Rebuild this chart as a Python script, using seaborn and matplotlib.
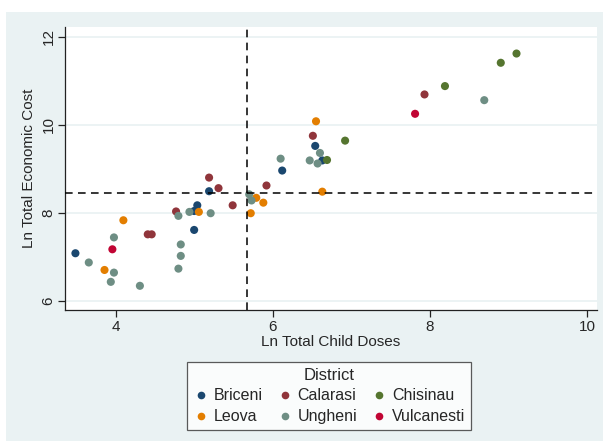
import numpy as np
import pandas as pd
import matplotlib
matplotlib.use("Agg")
import matplotlib.pyplot as plt
from matplotlib.patches import Rectangle
from matplotlib.lines import Line2D
import seaborn as sns

# Stata s2color palette
colors = {"Briceni": "#1a476f",
          "Calarasi": "#90353b",
          "Chisinau": "#55752f",
          "Leova": "#e37e00",
          "Ungheni": "#6e8e84",
          "Vulcanesti": "#c10534"}
districts = list(colors.keys())

# data (ln doses, ln cost)
briceni_x = [3.49, 5.00, 5.00, 5.04, 5.19, 6.12, 6.54, 6.63]
briceni_y = [7.08, 7.61, 8.04, 8.17, 8.49, 8.96, 9.52, 9.19]
calarasi_x = [4.41, 4.46, 4.77, 5.19, 5.31, 5.49, 5.92, 6.51, 7.93]
calarasi_y = [7.51, 7.51, 8.03, 8.80, 8.56, 8.17, 8.62, 9.75, 10.69]
chisinau_x = [6.69, 6.92, 8.19, 8.90, 9.10]
chisinau_y = [9.20, 9.64, 10.88, 11.41, 11.62]
leova_x = [3.86, 4.10, 5.06, 5.72, 5.79, 5.88, 6.55, 6.63]
leova_y = [6.70, 7.83, 8.02, 7.99, 8.34, 8.23, 10.08, 8.48]
ungheni_x = [3.66, 3.98, 3.94, 3.98, 4.31, 4.80, 4.83, 4.83, 4.80, 4.94,
             5.21, 5.70, 5.73, 6.10, 6.47, 6.57, 6.60, 8.69]
ungheni_y = [6.87, 6.64, 6.43, 7.44, 6.34, 6.73, 7.02, 7.28, 7.93, 8.02,
             7.99, 8.42, 8.28, 9.23, 9.19, 9.12, 9.36, 10.56]
vulcanesti_x = [3.96, 7.81]
vulcanesti_y = [7.17, 10.25]

mean_x = 5.673
mean_y = 8.455

xs = [briceni_x, calarasi_x, chisinau_x, leova_x, ungheni_x, vulcanesti_x]
ys = [briceni_y, calarasi_y, chisinau_y, leova_y, ungheni_y, vulcanesti_y]
df = pd.concat([pd.DataFrame({"doses": a, "cost": b, "District": d})
                for a, b, d in zip(xs, ys, districts)], ignore_index=True)

sns.set_style("white")
plt.rcParams['font.family'] = ['Liberation Sans', 'DejaVu Sans']

bg = "#eaf2f3"
fig = plt.figure(figsize=(6.03, 4.45), dpi=100, facecolor="white")
fig.patches.append(Rectangle((6/603, 4/445), 597/603, 429/445,
                             transform=fig.transFigure, facecolor=bg,
                             edgecolor="none", zorder=-10))
ax = fig.add_axes([65.2/603, 1 - 310/445, (596.7-65.2)/603, (310-26.7)/445])

sns.scatterplot(data=df, x="doses", y="cost", hue="District",
                hue_order=districts, palette=colors, s=34, linewidth=0,
                ax=ax, legend=False, zorder=3)

ax.axhline(mean_y, color="black", ls=(0, (5, 3.5)), lw=1.1, zorder=4)
ax.axvline(mean_x, color="black", ls=(0, (5, 3.5)), lw=1.1, zorder=4)

ax.set_xlim(3.36, 10.12)
ax.set_ylim(5.79, 12.23)
ax.set_xticks([4, 6, 8, 10])
ax.set_yticks([6, 8, 10, 12])
ax.yaxis.grid(True, color=bg, lw=1.3)
ax.set_axisbelow(True)
for s in ["top", "right"]:
    ax.spines[s].set_visible(False)
for s in ["left", "bottom"]:
    ax.spines[s].set_color("#222222")
    ax.spines[s].set_linewidth(0.9)
ax.tick_params(axis="both", direction="out", length=5, width=0.9,
               color="#222222", labelsize=11, bottom=True, left=True, pad=2)
plt.setp(ax.get_yticklabels(), rotation=90, va="center")
ax.set_xlabel("Ln Total Child Doses", fontsize=11, labelpad=1)
ax.set_ylabel("Ln Total Economic Cost", fontsize=11, labelpad=4)

# legend filled row by row, as in the reference
order = [0, 3, 1, 4, 2, 5]
handles = [Line2D([], [], ls="none", marker="o", ms=5.5, mec="none",
                  color=colors[districts[i]]) for i in order]
labels = [districts[i] for i in order]
leg = fig.legend(handles, labels, ncol=3, title="District",
                 loc="center", bbox_to_anchor=(329/603, 1 - 396/445),
                 fontsize=11.5, title_fontsize=12, frameon=True,
                 fancybox=False, edgecolor="#333333", handletextpad=0.3,
                 columnspacing=0.9, handlelength=1.0, borderpad=0.35,
                 labelspacing=0.35)
leg.get_frame().set_linewidth(0.9)

fig.savefig("out.png", dpi=100, facecolor="white")
